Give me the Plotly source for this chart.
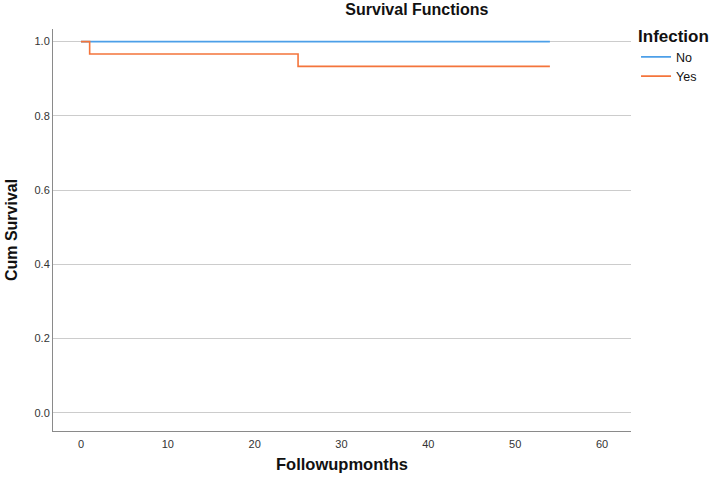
import plotly.graph_objects as go

# Data
no_months = [0, 54]
no_surv = [1.0, 1.0]
yes_months = [0, 1, 25, 54]
yes_surv = [1.0, 0.9667, 0.9333, 0.9333]
x_ticks = [0, 10, 20, 30, 40, 50, 60]
y_ticks = [0.0, 0.2, 0.4, 0.6, 0.8, 1.0]
y_tick_labels = ["0.0", "0.2", "0.4", "0.6", "0.8", "1.0"]

font_main = "Liberation Sans, Arial, sans-serif"

fig = go.Figure()
fig.add_trace(go.Scatter(x=no_months, y=no_surv, mode="lines", name="No",
                         line=dict(color="#4C9FE8", width=1.6, shape="hv")))
fig.add_trace(go.Scatter(x=yes_months, y=yes_surv, mode="lines", name="Yes",
                         line=dict(color="#F4743B", width=1.6, shape="hv")))

fig.update_layout(
    width=709, height=482,
    paper_bgcolor="white", plot_bgcolor="white",
    margin=dict(l=53, r=78, t=29, b=51, autoexpand=False),
    font=dict(family=font_main, size=11, color="#222"),
    title=dict(text="<b>Survival Functions</b>", x=0.588, xanchor="center",
               y=0.981, yanchor="middle", font=dict(size=16, color="#111")),
    legend=dict(title=dict(text="<b>Infection</b>", font=dict(size=17, color="#111")),
                x=1.0087, xanchor="left", y=1.022, yanchor="top",
                font=dict(size=12.5, color="#111"), bgcolor="rgba(0,0,0,0)",
                itemwidth=30, tracegroupgap=0),
    showlegend=True,
)
fig.update_xaxes(range=[-3.22, 63.34], tickvals=x_ticks, showgrid=False,
                 showline=True, linecolor="#8a8a8a", linewidth=1, zeroline=False,
                 ticks="", tickfont=dict(size=11, color="#333"), automargin=False,
                 ticklabelstandoff=3,
                 title=dict(text="<b>Followupmonths</b>", font=dict(size=16.5, color="#111"), standoff=9))
fig.update_yaxes(range=[-0.049, 1.034], tickvals=y_ticks, ticktext=y_tick_labels,
                 showgrid=True, gridcolor="#cccccc", gridwidth=1.2,
                 showline=True, linecolor="#8a8a8a", linewidth=1, zeroline=False,
                 ticks="", tickfont=dict(size=11, color="#333"), automargin=False,
                 title=dict(text="<b>Cum Survival</b>", font=dict(size=16, color="#111"), standoff=12))

fig.write_html("out.html", config={"displayModeBar": False},
               post_script="document.body.style.margin='0';document.body.style.overflow='hidden';")
